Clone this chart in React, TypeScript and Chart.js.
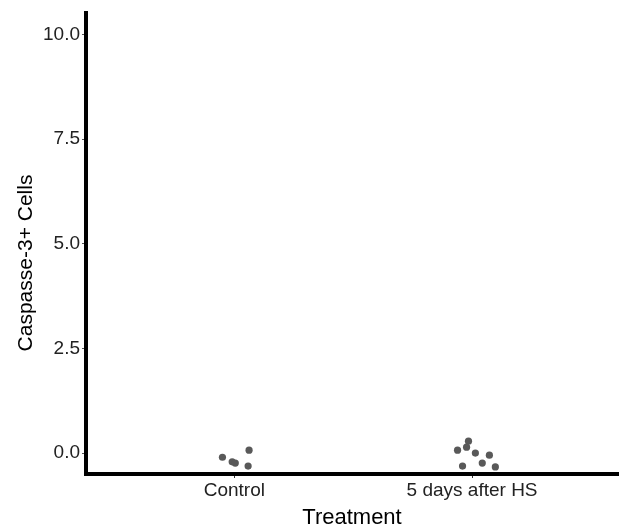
import React, { useEffect, useRef } from "react";
import { Chart, registerables } from "chart.js";

Chart.register(...registerables);

const categories = ["Control", "5 days after HS"];
const controlX = [0.95, 0.991, 1.004, 1.062, 1.058];
const controlY = [-0.1, -0.21, -0.24, 0.07, -0.31];
const hsX = [1.985, 1.977, 1.939, 2.014, 2.073, 1.96, 2.043, 2.098];
const hsY = [0.285, 0.14, 0.07, 0.0, -0.05, -0.31, -0.24, -0.33];
const yTicks = [0, 2.5, 5, 7.5, 10];
const xTicks = [1, 2];
const yTitle = "Caspasse-3+ Cells";
const xTitle = "Treatment";

const FONT = "Liberation Sans, Arial, sans-serif";

const yTitlePlugin = {
  id: "yTitlePlugin",
  afterDraw(chart: any) {
    const c = chart.ctx;
    c.save();
    c.translate(26, 263);
    c.rotate(-Math.PI / 2);
    c.fillStyle = "#000";
    c.font = `21px ${FONT}`;
    c.textAlign = "center";
    c.textBaseline = "middle";
    c.fillText(yTitle, 0, 0);
    c.restore();
  },
};

export default function App() {
  const ref = useRef<HTMLCanvasElement>(null);
  useEffect(() => {
    document.body.style.margin = "0";
    const ctx = ref.current!;
    const pts = [
      ...controlX.map((x, i) => ({ x, y: controlY[i] })),
      ...hsX.map((x, i) => ({ x, y: hsY[i] })),
    ];
    const chart = new Chart(ctx, {
      type: "scatter",
      data: {
        datasets: [
          {
            data: pts,
            backgroundColor: "#595959",
            borderColor: "#595959",
            pointRadius: 3.6,
            borderWidth: 0,
          },
        ],
      },
      plugins: [yTitlePlugin],
      options: {
        animation: false,
        responsive: false,
        layout: { padding: { top: 5, right: 0, left: 0, bottom: 0 } },
        plugins: { legend: { display: false }, tooltip: { enabled: false } },
        scales: {
          x: {
            type: "linear",
            min: 0.376,
            max: 2.614,
            afterBuildTicks: (s: any) => {
              s.ticks = xTicks.map((v) => ({ value: v }));
            },
            afterFit: (s: any) => {
              s.height = 57;
            },
            grid: {
              drawOnChartArea: false,
              tickLength: 4,
              color: "#333",
            },
            border: { display: true, color: "#000", width: 4 },
            ticks: {
              callback: (v: any) => categories[Number(v) - 1] ?? "",
              color: "#222",
              font: { family: FONT, size: 19 },
              padding: 1,
              maxRotation: 0,
            },
            title: {
              display: true,
              text: xTitle,
              color: "#000",
              font: { family: FONT, size: 22 },
              padding: { top: 0, bottom: 0 },
            },
          },
          y: {
            type: "linear",
            min: -0.5,
            max: 10.5,
            afterBuildTicks: (s: any) => {
              s.ticks = yTicks.map((v) => ({ value: v }));
            },
            afterFit: (s: any) => {
              s.width = 86;
            },
            grid: {
              drawOnChartArea: false,
              tickLength: 4,
              color: "#555",
              lineWidth: 1,
            },
            border: { display: true, color: "#000", width: 4 },
            ticks: {
              callback: (v: any) => Number(v).toFixed(1),
              color: "#222",
              font: { family: FONT, size: 19 },
              padding: 2,
            },
            title: { display: false },
          },
        },
      },
    });
    return () => chart.destroy();
  }, []);
  return <canvas ref={ref} width={622} height={531} style={{ display: "block" }} />;
}
